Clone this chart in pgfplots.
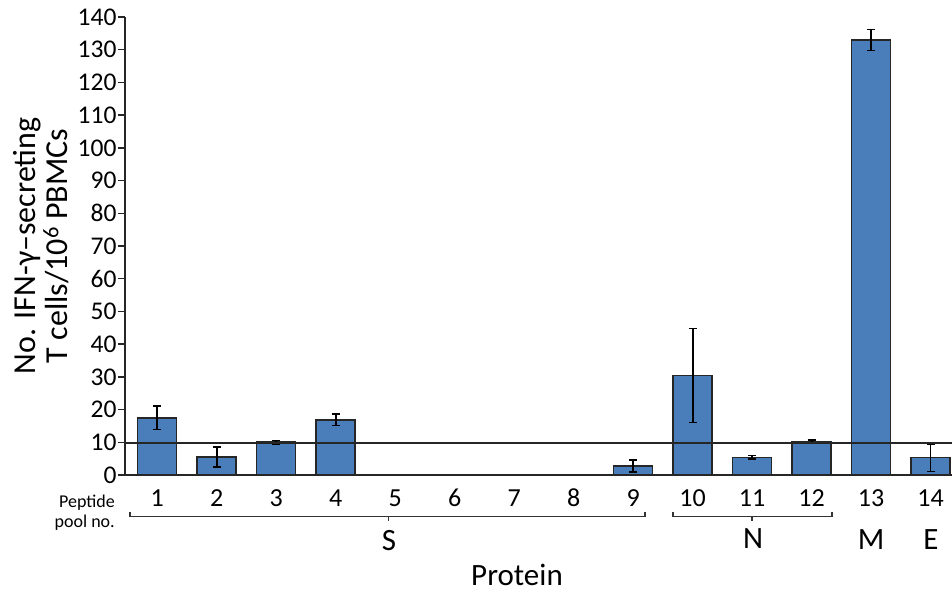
\documentclass[border=0pt]{standalone}
\usepackage{pgfplots}
\pgfplotsset{compat=1.18}
\usepackage{fontspec}
\setmainfont{Carlito}
\definecolor{barblue}{HTML}{4A7EBB}

\begin{document}
\begin{tikzpicture}[x=1pt,y=1pt]
    \path[use as bounding box] (-125,-116) rectangle (827,475);
    \begin{axis}[
        at={(0,0)}, anchor=south west,
        scale only axis,
        width=827pt,
        height=458pt,
        xmin=0.46, xmax=14.36,
        ymin=0, ymax=140,
        ybar,
        bar width=0.655,
        axis lines*=left,
        axis line style={line width=1.8pt, black!85},
        xtick={1,...,14},
        xtick style={draw=none},
        ytick={0,10,...,140},
        ytick style={line width=1.5pt, black!85},
        tick align=outside,
        major tick length=7pt,
        /pgf/number format/assume math mode=true,
        yticklabel style={font=\fontsize{25.5}{28}\selectfont, xshift=2pt},
        xticklabel style={font=\fontsize{26}{28}\selectfont, anchor=base, inner sep=0pt, yshift=-24pt},
        clip=false,
        ]
        \addplot[
            fill=barblue,
            draw=black!85,
            line width=1.6pt,
            error bars/.cd,
            y dir=both, y explicit,
            error mark options={rotate=90, line width=1.6pt, mark size=4pt, black},
            error bar style={line width=1.8pt, black},
            ]
            coordinates {
            (1,17.5) +- (0,3.6)
            (2,5.5) +- (0,3.0)
            (3,10.0) +- (0,0.5)
            (4,16.9) +- (0,1.8)
            (9,2.8) +- (0,1.8)
            (10,30.4) +- (0,14.4)
            (11,5.4) +- (0,0.5)
            (12,10.2) +- (0,0.5)
            (13,133.0) +- (0,3.2)
            (14,5.3) +- (0,4.2)
            };
        \draw[line width=1.6pt, black!85] (axis cs:0.46,9.7) -- (axis cs:14.36,9.7);
    \end{axis}

    % group braces
    \draw[line width=1.3pt, black!80] (5,-37.5) -- (5,-41.7) -- (520,-41.7) -- (520,-37.5);
    \draw[line width=1.3pt, black!80] (263.5,-41.7) -- (263.5,-45.5);
    \draw[line width=1.3pt, black!80] (548,-37.5) -- (548,-41.7) -- (707,-41.7) -- (707,-37.5);
    \draw[line width=1.3pt, black!80] (627,-41.7) -- (627,-45.5);

    \begin{scope}[every node/.style={anchor=base, inner sep=0pt, font=\fontsize{31}{33}\selectfont}]
    \node at (264,-75) {S};
    \node at (628,-74) {N};
    \node at (746,-74.5) {M};
    \node at (806,-74.5) {E};
    \node at (392,-110.5) {Protein};
    \end{scope}

    \node[anchor=east, align=right, font=\fontsize{18}{20}\selectfont, inner sep=0pt]
        at (-10,-38) {Peptide\\pool no.};

    \node[rotate=90, align=center, inner sep=0pt, font=\fontsize{32}{32}\selectfont]
        at (-84,229) {No. IFN-γ–secreting\\T cells/10\textsuperscript{6} PBMCs};
\end{tikzpicture}
\end{document}
